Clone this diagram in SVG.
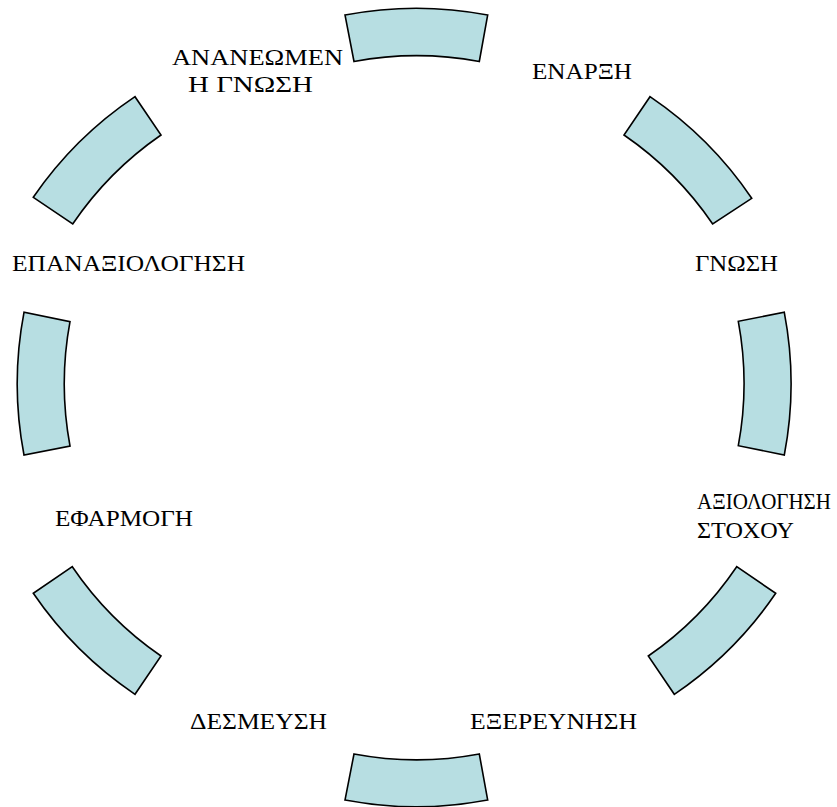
<svg xmlns="http://www.w3.org/2000/svg" width="837" height="807" viewBox="0 0 837 807">
<style>
.seg{fill:#B7DEE2;stroke:#000;stroke-width:1.6;stroke-linejoin:miter}
.lbl{font-family:"Liberation Serif","Times New Roman",serif;font-size:24px;fill:#000}
</style>
<rect width="837" height="807" fill="#fff"/>
<g id="connectors"></g>
<g id="seg-top"><path class="seg" d="M345,15 A380,380 0 0 1 487.7,15 L479.3,61.5 A340,340 0 0 0 354,61.5 Z"/></g>
<g id="seg-upper-right"><path class="seg" d="M650,96.7 A380,380 0 0 1 751.7,198.3 L712.7,224 A340,340 0 0 0 624,135 Z"/></g>
<g id="seg-right"><path class="seg" d="M784.3,312.3 A380,380 0 0 1 784.3,455 L738.3,445.7 A340,340 0 0 0 738.3,321.3 Z"/></g>
<g id="seg-lower-right"><path class="seg" d="M775.7,593.3 A380,380 0 0 1 674.3,694.3 L648.3,656 A340,340 0 0 0 736.7,566.7 Z"/></g>
<g id="seg-bottom"><path class="seg" d="M487.7,800 A380,380 0 0 1 345,800 L354,754 A340,340 0 0 0 479.3,754 Z"/></g>
<g id="seg-lower-left"><path class="seg" d="M135,694.3 A380,380 0 0 1 33.3,593.3 L72.3,566.7 A340,340 0 0 0 161,656 Z"/></g>
<g id="seg-left"><path class="seg" d="M24,455 A380,380 0 0 1 24,312.3 L70,321.7 A340,340 0 0 0 70,446 Z"/></g>
<g id="seg-upper-left"><path class="seg" d="M33.3,197.3 A380,380 0 0 1 135,96.7 L161,135 A340,340 0 0 0 72.7,224 Z"/></g>
<g id="label-enarxi"><text class="lbl" x="532" y="79" textLength="100" lengthAdjust="spacingAndGlyphs">ΕΝΑΡΞΗ</text></g>
<g id="label-gnosi"><text class="lbl" x="695" y="271" textLength="83" lengthAdjust="spacingAndGlyphs">ΓΝΩΣΗ</text></g>
<g id="label-axiologisi-stoxou"><text class="lbl" x="697" y="509" font-size="22" textLength="134" lengthAdjust="spacingAndGlyphs">ΑΞΙΟΛΟΓΗΣΗ</text><text class="lbl" x="697" y="538" textLength="97" lengthAdjust="spacingAndGlyphs">ΣΤΟΧΟΥ</text></g>
<g id="label-exerevnisi"><text class="lbl" x="470" y="729" textLength="167" lengthAdjust="spacingAndGlyphs">ΕΞΕΡΕΥΝΗΣΗ</text></g>
<g id="label-desmefsi"><text class="lbl" x="190" y="729" textLength="137" lengthAdjust="spacingAndGlyphs">ΔΕΣΜΕΥΣΗ</text></g>
<g id="label-efarmogi"><text class="lbl" x="55" y="526" textLength="138" lengthAdjust="spacingAndGlyphs">ΕΦΑΡΜΟΓΗ</text></g>
<g id="label-epanaxiologisi"><text class="lbl" x="12" y="271" textLength="233" lengthAdjust="spacingAndGlyphs">ΕΠΑΝΑΞΙΟΛΟΓΗΣΗ</text></g>
<g id="label-ananeomeni-gnosi"><text class="lbl" x="172" y="65" textLength="171" lengthAdjust="spacingAndGlyphs">ΑΝΑΝΕΩΜΕΝ</text><text class="lbl" x="188" y="92" textLength="125" lengthAdjust="spacingAndGlyphs">Η ΓΝΩΣΗ</text></g>
</svg>
